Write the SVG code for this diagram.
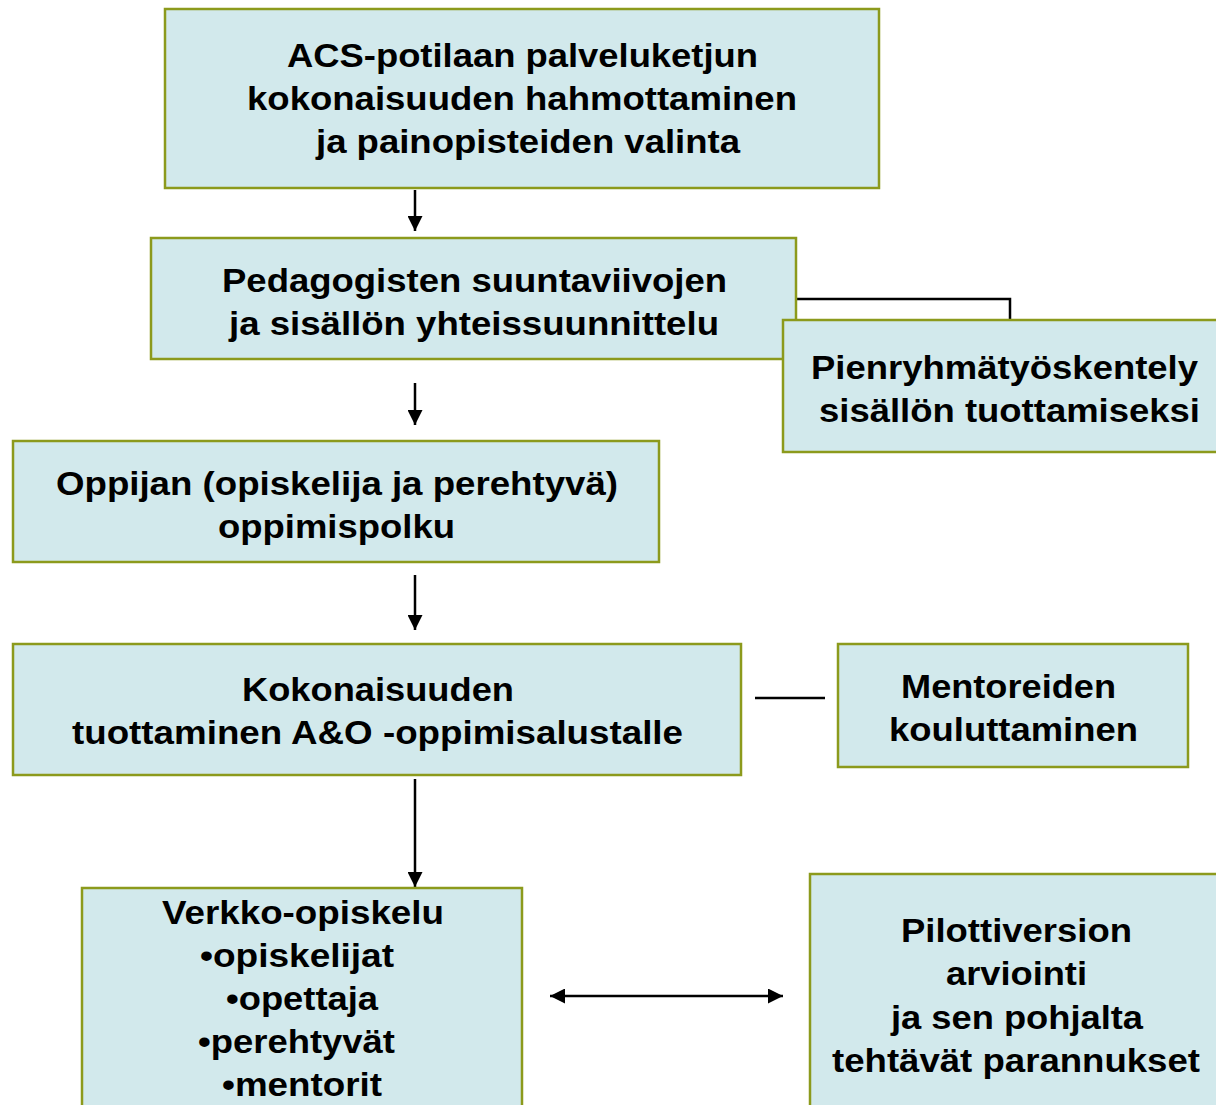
<svg xmlns="http://www.w3.org/2000/svg" width="1216" height="1105" viewBox="0 0 1216 1105">
<defs>
<style>
.box{fill:#D2E9EC;stroke:#8C9A1C;stroke-width:2.5}
.t{font-family:"Liberation Sans",Arial,sans-serif;font-weight:bold;font-size:34px;fill:#000;text-anchor:middle}
.c{stroke:#000;stroke-width:2.5;fill:none}
</style>
<marker id="ah" viewBox="0 0 10 10" refX="10" refY="5" markerWidth="6" markerHeight="6" orient="auto-start-reverse" markerUnits="strokeWidth">
<path d="M0,0 L10,5 L0,10 z" fill="#000"/>
</marker>
</defs>
<rect width="1216" height="1105" fill="#fff"/>
<g id="connectors">
<line class="c" x1="415" y1="190" x2="415" y2="231" marker-end="url(#ah)"/>
<line class="c" x1="415" y1="383" x2="415" y2="425" marker-end="url(#ah)"/>
<line class="c" x1="415" y1="575" x2="415" y2="630" marker-end="url(#ah)"/>
<line class="c" x1="415" y1="779" x2="415" y2="887" marker-end="url(#ah)"/>
<polyline class="c" points="796,299 1010,299 1010,320"/>
<line class="c" x1="755" y1="698" x2="825" y2="698"/>
<line class="c" x1="550" y1="996" x2="783" y2="996" marker-start="url(#ah)" marker-end="url(#ah)"/>
</g>
<g id="n1">
<rect class="box" x="165" y="9" width="714" height="179"/>
<text class="t" x="522.5" y="67" textLength="471" lengthAdjust="spacingAndGlyphs">ACS-potilaan palveluketjun</text>
<text class="t" x="522" y="110" textLength="550" lengthAdjust="spacingAndGlyphs">kokonaisuuden hahmottaminen</text>
<text class="t" x="528" y="153" textLength="424" lengthAdjust="spacingAndGlyphs">ja painopisteiden valinta</text>
</g>
<g id="n2">
<rect class="box" x="151" y="238" width="645" height="121"/>
<text class="t" x="474.5" y="292" textLength="505" lengthAdjust="spacingAndGlyphs">Pedagogisten suuntaviivojen</text>
<text class="t" x="474" y="335" textLength="490" lengthAdjust="spacingAndGlyphs">ja sisällön yhteissuunnittelu</text>
</g>
<g id="n3">
<rect class="box" x="783" y="320" width="445" height="132"/>
<text class="t" x="1004.5" y="379" textLength="387" lengthAdjust="spacingAndGlyphs">Pienryhmätyöskentely</text>
<text class="t" x="1009.5" y="422" textLength="381" lengthAdjust="spacingAndGlyphs">sisällön tuottamiseksi</text>
</g>
<g id="n4">
<rect class="box" x="13" y="441" width="646" height="121"/>
<text class="t" x="337" y="495" textLength="562" lengthAdjust="spacingAndGlyphs">Oppijan (opiskelija ja perehtyvä)</text>
<text class="t" x="336.5" y="538" textLength="237" lengthAdjust="spacingAndGlyphs">oppimispolku</text>
</g>
<g id="n5">
<rect class="box" x="13" y="644" width="728" height="131"/>
<text class="t" x="378" y="701" textLength="272" lengthAdjust="spacingAndGlyphs">Kokonaisuuden</text>
<text class="t" x="377.5" y="744" textLength="611" lengthAdjust="spacingAndGlyphs">tuottaminen A&amp;O -oppimisalustalle</text>
</g>
<g id="n6">
<rect class="box" x="838" y="644" width="350" height="123"/>
<text class="t" x="1008.5" y="698" textLength="215" lengthAdjust="spacingAndGlyphs">Mentoreiden</text>
<text class="t" x="1013.5" y="741" textLength="249" lengthAdjust="spacingAndGlyphs">kouluttaminen</text>
</g>
<g id="n7">
<rect class="box" x="82" y="888" width="440" height="230"/>
<text class="t" x="303" y="924" textLength="282" lengthAdjust="spacingAndGlyphs">Verkko-opiskelu</text>
<text class="t" x="297" y="967" textLength="194" lengthAdjust="spacingAndGlyphs">•opiskelijat</text>
<text class="t" x="302" y="1010" textLength="152" lengthAdjust="spacingAndGlyphs">•opettaja</text>
<text class="t" x="296.5" y="1053" textLength="197" lengthAdjust="spacingAndGlyphs">•perehtyvät</text>
<text class="t" x="302" y="1096" textLength="160" lengthAdjust="spacingAndGlyphs">•mentorit</text>
</g>
<g id="n8">
<rect class="box" x="810" y="874" width="420" height="244"/>
<text class="t" x="1016.5" y="942" textLength="231" lengthAdjust="spacingAndGlyphs">Pilottiversion</text>
<text class="t" x="1016.5" y="985" textLength="141" lengthAdjust="spacingAndGlyphs">arviointi</text>
<text class="t" x="1017" y="1029" textLength="252" lengthAdjust="spacingAndGlyphs">ja sen pohjalta</text>
<text class="t" x="1016" y="1072" textLength="368" lengthAdjust="spacingAndGlyphs">tehtävät parannukset</text>
</g>
</svg>
